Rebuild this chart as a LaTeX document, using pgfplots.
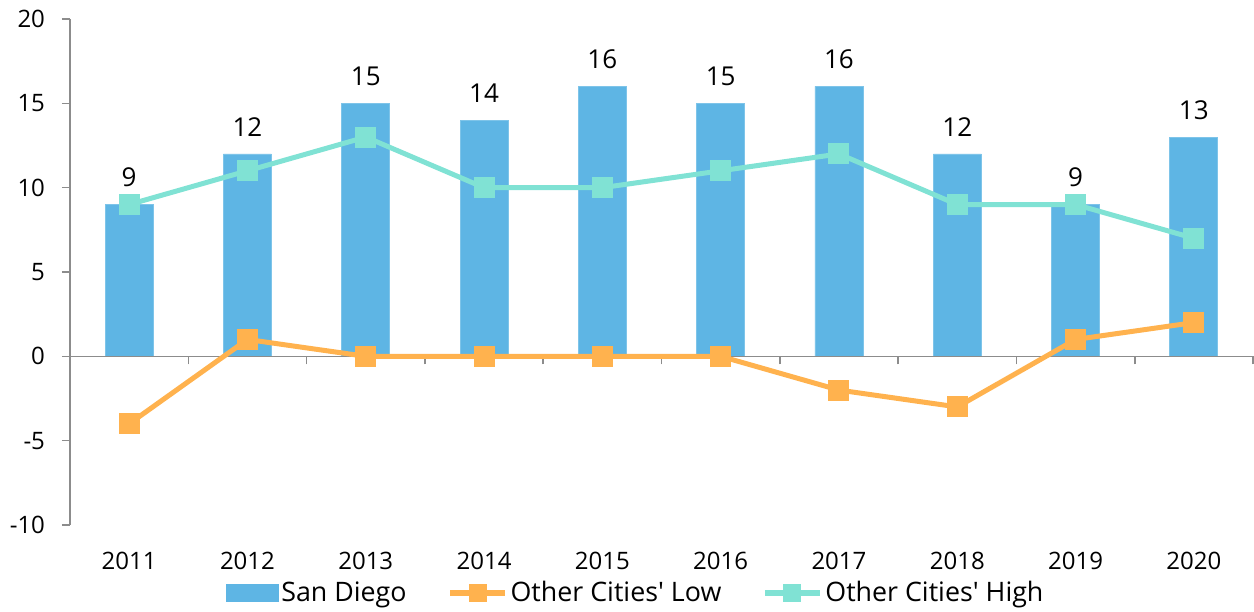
\documentclass[border=0pt]{standalone}
\usepackage{fontspec}
\setmainfont{Open Sans}[Ligatures=TeXOff]
\usepackage{pgfplots}
\pgfplotsset{compat=1.18}
\definecolor{sdblue}{HTML}{5EB5E4}
\definecolor{lowor}{HTML}{FFB24E}
\definecolor{highteal}{HTML}{80E2D4}
\definecolor{axgray}{HTML}{8C8C8C}
\begin{document}
\begin{tikzpicture}[font=\fontsize{12bp}{14bp}\selectfont]
% overlay axis: tick marks on the zero line
\begin{axis}[
  scale only axis, width=591.5bp, height=253bp,
  xmin=-0.5, xmax=9.5, ymin=-10, ymax=20,
  axis x line=middle, axis y line=none,
  x axis line style={-, draw=axgray, line width=0.8bp},
  xtick={0.5,1.5,...,9.5}, xticklabels={},
  xtick style={draw=axgray, line width=0.8bp, yshift=-2bp},
  major tick length=4bp,
]
\addplot[draw=none, forget plot] coordinates {(0,0)};
\end{axis}
\begin{axis}[
  name=main,
  scale only axis, width=591.5bp, height=253bp,
  xmin=-0.5, xmax=9.5, ymin=-10, ymax=20,
  /pgf/number format/assume math mode=true,
  axis y line*=left, axis x line*=bottom,
  x axis line style={draw=none},
  y axis line style={-, draw=axgray, line width=0.8bp},
  xtick={0,...,9},
  xticklabels={2011,2012,2013,2014,2015,2016,2017,2018,2019,2020},
  xtick style={draw=none},
  xticklabel style={yshift=-6bp},
  ytick={-10,-5,0,5,10,15,20},
  yticklabels={-10,-5,0,5,10,15,20},
  ytick style={draw=axgray, line width=0.8bp},
  yticklabel style={xshift=-5bp},
  tick align=outside, major tick length=4bp,
  legend columns=3,
  legend style={at={(0.5,0)}, anchor=center, xshift=-12.75bp, yshift=-34bp,
    draw=none, fill=none, inner sep=0pt,
    /tikz/every even column/.append style={column sep=19bp},
    nodes={inner sep=1.5bp, font=\fontsize{13.4bp}{15bp}\selectfont}},
]
\addplot[ybar, bar width=24bp, fill=sdblue, draw=sdblue!80!white, line width=0.4bp,
  nodes near coords,
  every node near coord/.append style={text=black, yshift=5.2bp, font=\fontsize{13bp}{15bp}\selectfont},
  legend image code/.code={\fill[sdblue] (0bp,-4.25bp) rectangle (26bp,4.25bp);}]
  coordinates {(0,9) (1,12) (2,15) (3,14) (4,16) (5,15) (6,16) (7,12) (8,9) (9,13)};
\addlegendentry{San Diego}
\addplot[axgray, line width=0.8bp, forget plot] coordinates {(-0.5,0) (9.5,0)};
\addplot[lowor, line width=2.5bp, mark=square*, mark size=5bp, mark options={solid, fill=lowor, draw=lowor, line width=0pt},
  legend image code/.code={\draw[lowor, line width=2.5bp] (0bp,0bp) -- (27.5bp,0bp);
     \fill[lowor] (10.5bp,-3.25bp) rectangle (17bp,3.25bp);}]
  coordinates {(0,-4) (1,1) (2,0) (3,0) (4,0) (5,0) (6,-2) (7,-3) (8,1) (9,2)};
\addlegendentry{Other Cities' Low}
\addplot[highteal, line width=2.5bp, mark=square*, mark size=5bp, mark options={solid, fill=highteal, draw=highteal, line width=0pt},
  legend image code/.code={\draw[highteal, line width=2.5bp] (0bp,0bp) -- (27.5bp,0bp);
     \fill[highteal] (10.5bp,-3.25bp) rectangle (17bp,3.25bp);}]
  coordinates {(0,9) (1,11) (2,13) (3,10) (4,10) (5,11) (6,12) (7,9) (8,9) (9,7)};
\addlegendentry{Other Cities' High}
\coordinate (bl) at (rel axis cs:0,0);
\coordinate (tr) at (rel axis cs:1,1);
\end{axis}
\pgfresetboundingbox
\path[use as bounding box] ([xshift=-35bp,yshift=-43.5bp]bl) rectangle ([xshift=0.5bp,yshift=9.5bp]tr);
\end{tikzpicture}
\end{document}
